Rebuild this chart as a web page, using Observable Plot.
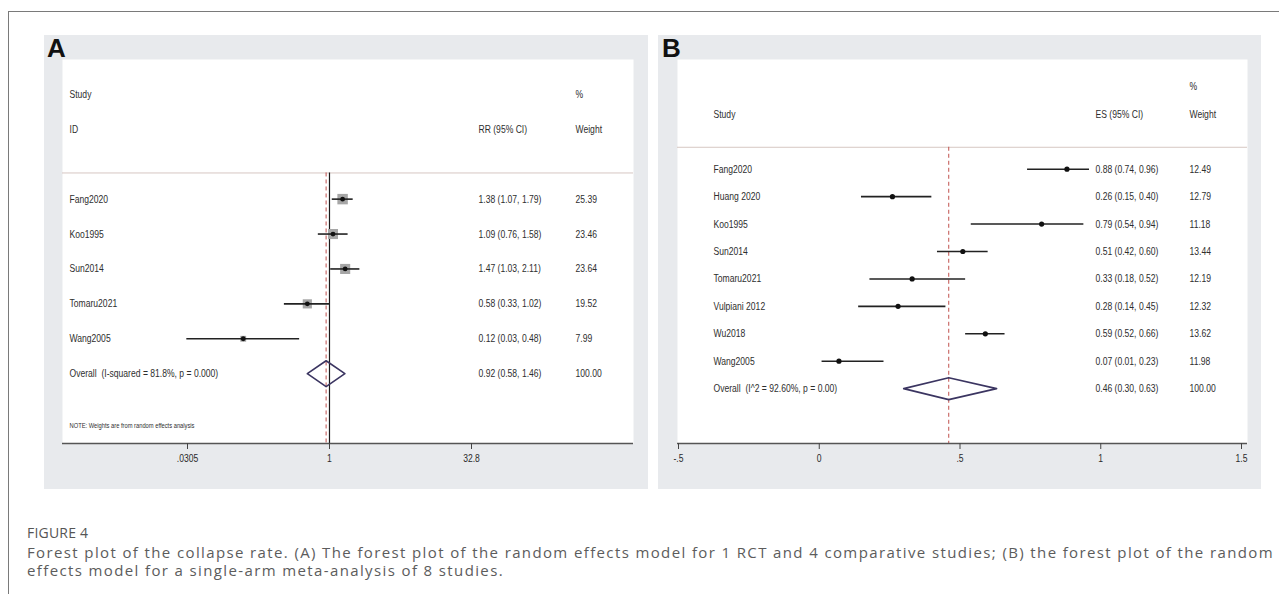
<!DOCTYPE html>
<html><head><meta charset="utf-8">
<script src="https://cdn.jsdelivr.net/npm/d3@7"></script>
<script src="https://cdn.jsdelivr.net/npm/@observablehq/plot@0.6"></script>
<style>
body{margin:0;background:#fff;width:1279px;height:594px;position:relative;overflow:hidden;}
#frameTop{position:absolute;left:8px;top:11px;width:1271px;height:1px;background:#7a7a7a}
#frameLeft{position:absolute;left:8px;top:11px;width:1px;height:583px;background:#7a7a7a}
.panel{position:absolute;top:35px}
.panel svg{display:block}
.plabel{position:absolute;font:bold 26px 'Liberation Sans',Arial,sans-serif;line-height:26px;color:#111}
#figtitle{position:absolute;left:27px;top:524px;font:14px 'Open Sans',sans-serif;line-height:18px;color:#555;letter-spacing:0.2px}
#cap{position:absolute;left:27px;top:543px;font-family:'Open Sans',sans-serif;font-size:15px;line-height:18px;color:#5c5c5c;white-space:nowrap}
</style></head>
<body>
<div id="frameTop"></div><div id="frameLeft"></div>
<div class="panel" id="pa" style="left:44px"></div>
<div class="panel" id="pb" style="left:658px"></div>
<div class="plabel" style="left:47px;top:35px">A</div>
<div class="plabel" style="left:662px;top:35px">B</div>
<div id="figtitle">FIGURE 4</div>
<div id="cap"><span id="cap1">Forest plot of the collapse rate. (A) The forest plot of the random effects model for 1 RCT and 4 comparative studies; (B) the forest plot of the random</span><br><span id="cap2">effects model for a single-arm meta-analysis of 8 studies.</span></div>
<script>
// ---- Panel A data (RR, log scale) ----
const studiesA = ["Fang2020","Koo1995","Sun2014","Tomaru2021","Wang2005"];
const rrA      = [1.38, 1.09, 1.47, 0.58, 0.12];
const loA      = [1.07, 0.76, 1.03, 0.33, 0.03];
const hiA      = [1.79, 1.58, 2.11, 1.02, 0.48];
const weightA  = [25.39, 23.46, 23.64, 19.52, 7.99];
const overallLabelA = "Overall  (I-squared = 81.8%, p = 0.000)";
const overallA = [0.92, 0.58, 1.46, 100.00];
const ticksA = [0.0305, 1, 32.8];
const tickLabelsA = [".0305", "1", "32.8"];
const noteA = "NOTE: Weights are from random effects analysis";

// ---- Panel B data (ES, linear) ----
const studiesB = ["Fang2020","Huang 2020","Koo1995","Sun2014","Tomaru2021","Vulpiani 2012","Wu2018","Wang2005"];
const esB      = [0.88, 0.26, 0.79, 0.51, 0.33, 0.28, 0.59, 0.07];
const loB      = [0.74, 0.15, 0.54, 0.42, 0.18, 0.14, 0.52, 0.01];
const hiB      = [0.96, 0.40, 0.94, 0.60, 0.52, 0.45, 0.66, 0.23];
const weightB  = [12.49, 12.79, 11.18, 13.44, 12.19, 12.32, 13.62, 11.98];
const overallLabelB = "Overall  (I^2 = 92.60%, p = 0.00)";
const overallB = [0.46, 0.30, 0.63, 100.00];
const ticksB = [-0.5, 0, 0.5, 1, 1.5];
const tickLabelsB = ["-.5", "0", ".5", "1", "1.5"];

const fmt = d3.format(".2f");
const FONT = "'Liberation Sans',Arial,sans-serif";
const NARROW_SCALE = 0.78;
const style = {fontFamily: FONT, fontSize: "11px", background: "#e8eaed", color: "#2e2e2e", overflow: "visible"};

function build(studies, est, lo, hi, w, oLabel, o) {
  const rows = studies.map((s, i) => ({i, study: s, est: est[i], lo: lo[i], hi: hi[i], w: w[i],
    ci: `${fmt(est[i])} (${fmt(lo[i])}, ${fmt(hi[i])})`, wt: fmt(w[i])}));
  const oi = studies.length;
  const overall = {i: oi, study: oLabel, est: o[0], lo: o[1], hi: o[2], ci: `${fmt(o[0])} (${fmt(o[1])}, ${fmt(o[2])})`, wt: fmt(o[3])};
  return {rows, overall};
}
function diamond(o, h) {
  return [{x: o.lo, y: o.i}, {x: o.est, y: o.i - h}, {x: o.hi, y: o.i}, {x: o.est, y: o.i + h}, {x: o.lo, y: o.i}];
}
// Stata-like condensed text: squeeze every text horizontally about its anchor
function condense(svg, s) {
  svg.querySelectorAll("text").forEach(t => {
    const x = +t.getAttribute("x") || 0;
    const tr = t.getAttribute("transform") || "";
    t.setAttribute("transform", `${tr} translate(${x},0) scale(${s},1) translate(${-x},0)`);
  });
}

// ---------- Panel A ----------
{
  const {rows, overall} = build(studiesA, rrA, loA, hiA, weightA, overallLabelA, overallA);
  const col1 = [{i: -3, t: "Study"}, {i: -2, t: "ID"}, ...rows.map(d => ({i: d.i, t: d.study})), {i: overall.i, t: overall.study}];
  const col2 = [{i: -2, t: "RR (95% CI)"}, ...rows.map(d => ({i: d.i, t: d.ci})), {i: overall.i, t: overall.ci}];
  const col3 = [{i: -3, t: "%"}, {i: -2, t: "Weight"}, ...rows.map(d => ({i: d.i, t: d.wt})), {i: overall.i, t: overall.wt}];
  const H = 454, mb = 46;
  const chart = Plot.plot({
    width: 604, height: H, marginLeft: 18, marginRight: 15, marginTop: 24, marginBottom: mb,
    x: {type: "log", domain: [ticksA[0], ticksA[2]], range: [143, 427]},
    y: {domain: [-4, 7], range: [24, H - mb], axis: null},
    r: {type: "sqrt", domain: [0, d3.max(weightA)], range: [0, 5.9]},
    style,
    marks: [
      Plot.frame({fill: "white", stroke: "none"}),
      Plot.ruleY([-0.75], {stroke: "#d6c7c2"}),
      Plot.ruleX([1], {y1: -0.75, y2: 7, stroke: "#1a1a1a", strokeWidth: 1.2}),
      Plot.ruleX([overall.est], {y1: -0.75, y2: 7, stroke: "#c0504d", strokeDasharray: "4,3"}),
      Plot.dot(rows, {x: "est", y: "i", r: "w", symbol: "square", fill: "#a6a6a6"}),
      Plot.ruleY(rows, {y: "i", x1: "lo", x2: "hi", stroke: "#222", strokeWidth: 1.6}),
      Plot.dot(rows, {x: "est", y: "i", r: 2.4, fill: "#111"}),
      Plot.line(diamond(overall, 0.37), {x: "x", y: "y", stroke: "#3b3561", strokeWidth: 1.6}),
      Plot.text(col1, {y: "i", text: "t", frameAnchor: "left", dx: 7, textAnchor: "start"}),
      Plot.text(col2, {y: "i", text: "t", frameAnchor: "left", dx: 416, textAnchor: "start"}),
      Plot.text(col3, {y: "i", text: "t", frameAnchor: "left", dx: 513, textAnchor: "start"}),
      Plot.text([{i: 6.5, t: noteA}], {y: "i", text: "t", frameAnchor: "left", dx: 7, textAnchor: "start", fontSize: 7.4}),
      Plot.ruleY([7], {stroke: "#555", strokeWidth: 1.5}),
      Plot.axisX({ticks: ticksA, tickFormat: d => tickLabelsA[ticksA.indexOf(d)], tickSize: 6, tickPadding: 5, stroke: "#444", fill: "#2b2b2b", fontSize: 11})
    ]
  });
  condense(chart, NARROW_SCALE);
  document.getElementById("pa").append(chart);
}

// ---------- Panel B ----------
{
  const {rows, overall} = build(studiesB, esB, loB, hiB, weightB, overallLabelB, overallB);
  const col1 = [{i: -2, t: "Study"}, ...rows.map(d => ({i: d.i, t: d.study})), {i: overall.i, t: overall.study}];
  const col2 = [{i: -2, t: "ES (95% CI)"}, ...rows.map(d => ({i: d.i, t: d.ci})), {i: overall.i, t: overall.ci}];
  const col3 = [{i: -3, t: "%"}, {i: -2, t: "Weight"}, ...rows.map(d => ({i: d.i, t: d.wt})), {i: overall.i, t: overall.wt}];
  const H = 454, mb = 46;
  const chart = Plot.plot({
    width: 603, height: H, marginLeft: 19, marginRight: 14, marginTop: 24, marginBottom: mb,
    x: {type: "linear", domain: [ticksB[0], ticksB[ticksB.length - 1]], range: [20, 583]},
    y: {domain: [-4, 10], range: [24, H - mb], axis: null},
    style,
    marks: [
      Plot.frame({fill: "white", stroke: "none"}),
      Plot.ruleY([-0.8], {stroke: "#d6c7c2"}),
      Plot.ruleX([overall.est], {y1: -0.8, y2: 10, stroke: "#c0504d", strokeDasharray: "4,3"}),
      Plot.ruleY(rows, {y: "i", x1: "lo", x2: "hi", stroke: "#222", strokeWidth: 1.6}),
      Plot.dot(rows, {x: "est", y: "i", r: 2.6, fill: "#111"}),
      Plot.line(diamond(overall, 0.4), {x: "x", y: "y", stroke: "#3b3561", strokeWidth: 1.6}),
      Plot.text(col1, {y: "i", text: "t", frameAnchor: "left", dx: 36, textAnchor: "start"}),
      Plot.text(col2, {y: "i", text: "t", frameAnchor: "left", dx: 418, textAnchor: "start"}),
      Plot.text(col3, {y: "i", text: "t", frameAnchor: "left", dx: 512, textAnchor: "start"}),
      Plot.ruleY([10], {stroke: "#555", strokeWidth: 1.5}),
      Plot.axisX({ticks: ticksB, tickFormat: d => tickLabelsB[ticksB.indexOf(d)], tickSize: 6, tickPadding: 5, stroke: "#444", fill: "#2b2b2b", fontSize: 11})
    ]
  });
  condense(chart, NARROW_SCALE);
  document.getElementById("pb").append(chart);
}

// fit caption line 1 to its width in the reference with letter spacing (keeps the font size)
{
  const span = document.getElementById("cap1");
  const cap = document.getElementById("cap");
  const target = 1247;
  const w = span.getBoundingClientRect().width;
  const n = span.textContent.length;
  if (w > 0) cap.style.letterSpacing = ((target - w) / n).toFixed(3) + "px";
}
</script>
</body></html>
